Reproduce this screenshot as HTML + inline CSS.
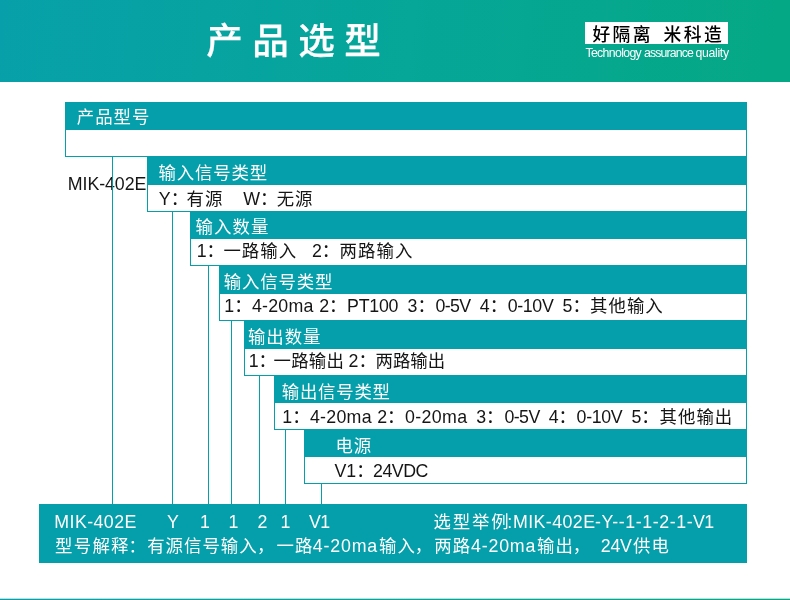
<!DOCTYPE html>
<html lang="zh-CN">
<head>
<meta charset="utf-8">
<title>产品选型</title>
<style>
*{margin:0;padding:0;box-sizing:border-box}
html,body{width:790px;height:600px;overflow:hidden;background:#fff}
body{position:relative;font-family:"Liberation Sans","Noto Sans CJK SC",sans-serif}
.hdr,.logo,.row,.band,.bx,.vl,.foot,.bline,.ln,.ln span{position:absolute}
.hdr{left:0;top:0;width:790px;height:82px;background:linear-gradient(96deg,#07a0aa 0%,#06a698 52%,#05a884 100%)}
.logo{left:585px;top:22px;width:143px;height:22px;background:#fff}
.row{width:0;height:0}
.band{left:0;top:0;background:#049faa}
.bx{left:0;border:1px solid #049faa;border-top:0;background:#fff}
.vl{width:1px;background:#049faa}
.foot{left:39px;top:504px;width:708px;height:59px;background:#049faa}
.bline{left:0;top:598px;width:790px;height:2px;background:linear-gradient(rgba(255,255,255,.7) 1px,rgba(255,255,255,0) 1px),linear-gradient(96deg,#07a0aa 0%,#06a698 52%,#05a884 100%)}
.ln{left:0;width:100%;height:20px;line-height:20px;font-size:17.4px;font-weight:400;white-space:nowrap;will-change:transform}
.ln span{top:0}
.ln .a{font-size:17.8px}
.w{color:#fff}
.k{color:#151515}
.title{font-size:36.6px;font-weight:500;height:44px;line-height:44px;-webkit-text-stroke:0.25px #fff}
.brand{font-size:17.8px;font-weight:500;color:#000}
.slogan{font-size:12.3px;height:16px;line-height:16px}
</style>
</head>
<body>
<header class="hdr">
<h1 class="ln title w" style="top:20px">
<span style="left:206.2px;letter-spacing:9.45px">产品选型</span>
</h1>
<div class="logo">
<div class="ln brand" style="top:3px">
<span style="left:7.5px;letter-spacing:2.33px">好隔离</span>
<span style="left:78.4px;letter-spacing:2.5px">米科造</span>
</div>
</div>
<p class="ln slogan w" style="top:45px">
<span style="left:585.4px;letter-spacing:-0.65px">Technology</span>
<span style="left:644px;letter-spacing:-0.87px">assurance</span>
<span style="left:695.6px;letter-spacing:-0.35px">quality</span>
</p>
</header>
<main>
<section class="row" style="left:65px;top:102px">
<div class="band" style="width:682px;height:28px">
<div class="ln w" style="top:5px">
<span style="left:11.8px;letter-spacing:0.97px">产品型号</span>
</div>
</div>
<div class="bx" style="top:28px;width:682px;height:27px">
</div>
</section>
<div class="ln k" style="top:174px">
<span class="a" style="left:67.8px;letter-spacing:-0.08px">MIK-402E</span>
</div>
<section class="row" style="left:147px;top:156px">
<div class="band" style="width:600px;height:29px">
<div class="ln w" style="top:7px">
<span style="left:11.6px;letter-spacing:0.86px">输入信号类型</span>
</div>
</div>
<div class="bx" style="top:29px;width:600px;height:27px">
<div class="ln k" style="top:4px">
<span class="a" style="left:10.8px">Y：</span>
<span style="left:38.5px;letter-spacing:1px">有源</span>
<span class="a" style="left:95.2px">W：</span>
<span style="left:128.7px;letter-spacing:1px">无源</span>
</div>
</div>
</section>
<section class="row" style="left:190px;top:211px">
<div class="band" style="width:557px;height:28px">
<div class="ln w" style="top:6px">
<span style="left:5.6px;letter-spacing:1.09px">输入数量</span>
</div>
</div>
<div class="bx" style="top:28px;width:557px;height:27px">
<div class="ln k" style="top:2px">
<span class="a" style="left:5.7px">1：</span>
<span style="left:32.4px;letter-spacing:1.06px">一路输入</span>
<span class="a" style="left:120.9px">2：</span>
<span style="left:148.6px;letter-spacing:1.04px">两路输入</span>
</div>
</div>
</section>
<section class="row" style="left:219px;top:265px">
<div class="band" style="width:528px;height:29px">
<div class="ln w" style="top:7px">
<span style="left:4.7px;letter-spacing:0.85px">输入信号类型</span>
</div>
</div>
<div class="bx" style="top:29px;width:528px;height:27px">
<div class="ln k" style="top:2px">
<span class="a" style="left:4.3px">1：</span>
<span class="a" style="left:31.9px;letter-spacing:0.26px">4-20ma</span>
<span class="a" style="left:99.2px">2：</span>
<span class="a" style="left:127px;letter-spacing:-0.22px">PT100</span>
<span class="a" style="left:187.5px">3：</span>
<span class="a" style="left:215.5px;letter-spacing:-0.63px">0-5V</span>
<span class="a" style="left:259.8px">4：</span>
<span class="a" style="left:287.7px;letter-spacing:-0.34px">0-10V</span>
<span class="a" style="left:342.5px">5：</span>
<span style="left:370.1px;letter-spacing:1.03px">其他输入</span>
</div>
</div>
</section>
<section class="row" style="left:244px;top:320px">
<div class="band" style="width:503px;height:29px">
<div class="ln w" style="top:7px">
<span style="left:3.9px;letter-spacing:1.01px">输出数量</span>
</div>
</div>
<div class="bx" style="top:29px;width:503px;height:27px">
<div class="ln k" style="top:2px">
<span class="a" style="left:3.7px">1：</span>
<span style="left:28.5px;letter-spacing:0.24px">一路输出</span>
<span class="a" style="left:103.5px">2：</span>
<span style="left:130.5px;letter-spacing:0.02px">两路输出</span>
</div>
</div>
</section>
<section class="row" style="left:274px;top:375px">
<div class="band" style="width:473px;height:28px">
<div class="ln w" style="top:7px">
<span style="left:7.8px;letter-spacing:0.76px">输出信号类型</span>
</div>
</div>
<div class="bx" style="top:28px;width:473px;height:27px">
<div class="ln k" style="top:4px">
<span class="a" style="left:7.3px">1：</span>
<span class="a" style="left:34.9px;letter-spacing:0.28px">4-20ma</span>
<span class="a" style="left:102.2px">2：</span>
<span class="a" style="left:130px;letter-spacing:0.38px">0-20ma</span>
<span class="a" style="left:201.2px">3：</span>
<span class="a" style="left:229.4px;letter-spacing:-0.56px">0-5V</span>
<span class="a" style="left:273.7px">4：</span>
<span class="a" style="left:301.6px;letter-spacing:-0.35px">0-10V</span>
<span class="a" style="left:356.4px">5：</span>
<span style="left:384.5px;letter-spacing:1.05px">其他输出</span>
</div>
</div>
</section>
<section class="row" style="left:304px;top:429px">
<div class="band" style="width:443px;height:28px">
<div class="ln w" style="top:7px">
<span style="left:31.5px;letter-spacing:0.85px">电源</span>
</div>
</div>
<div class="bx" style="top:28px;width:443px;height:27px">
<div class="ln k" style="top:4px">
<span class="a" style="left:29.5px">V1：</span>
<span class="a" style="left:68.1px;letter-spacing:-0.52px">24VDC</span>
</div>
</div>
</section>
<div class="vl" style="left:112px;top:157px;height:347px"></div>
<div class="vl" style="left:172px;top:212px;height:292px"></div>
<div class="vl" style="left:208px;top:266px;height:238px"></div>
<div class="vl" style="left:231px;top:321px;height:183px"></div>
<div class="vl" style="left:259px;top:376px;height:128px"></div>
<div class="vl" style="left:285px;top:430px;height:74px"></div>
<div class="vl" style="left:321px;top:484px;height:20px"></div>
</main>
<footer>
<div class="foot">
<div class="ln w" style="top:8px">
<span class="a" style="left:15.3px;letter-spacing:0.42px">MIK-402E</span>
<span class="a" style="left:127.9px">Y</span>
<span class="a" style="left:161.1px">1</span>
<span class="a" style="left:189.5px">1</span>
<span class="a" style="left:218.6px">2</span>
<span class="a" style="left:241.6px">1</span>
<span class="a" style="left:270.1px;letter-spacing:-0.6px">V1</span>
<span style="left:394.5px;letter-spacing:1.84px">选型举例</span>
<span class="a" style="left:468.2px">:</span>
<span class="a" style="left:473.9px;letter-spacing:0.44px">MIK-402E</span>
<span class="a" style="left:555.9px;letter-spacing:0.58px">-Y--</span>
<span class="a" style="left:586.2px;letter-spacing:0.6px">1-1-2-1-</span>
<span class="a" style="left:653.9px;letter-spacing:-0.6px">V1</span>
</div>
<div class="ln w" style="top:32px">
<span style="left:16px;letter-spacing:1.3px">型号解释</span>
<span style="left:89.6px">：</span>
<span style="left:108.2px;letter-spacing:1.03px">有源信号输入</span>
<span style="left:217.9px">，</span>
<span style="left:237.5px;letter-spacing:1.1px">一路</span>
<span class="a" style="left:273.8px;letter-spacing:0.82px">4-20ma</span>
<span style="left:339.9px;letter-spacing:1.1px">输入</span>
<span style="left:375.7px">，</span>
<span style="left:395.3px;letter-spacing:1.1px">两路</span>
<span class="a" style="left:432.1px;letter-spacing:0.78px">4-20ma</span>
<span style="left:498px;letter-spacing:1.1px">输出</span>
<span style="left:533.7px">，</span>
<span class="a" style="left:561.8px;letter-spacing:-0.28px">24V</span>
<span style="left:594.1px;letter-spacing:1.1px">供电</span>
</div>
</div>
<div class="bline"></div>
</footer>
</body>
</html>
